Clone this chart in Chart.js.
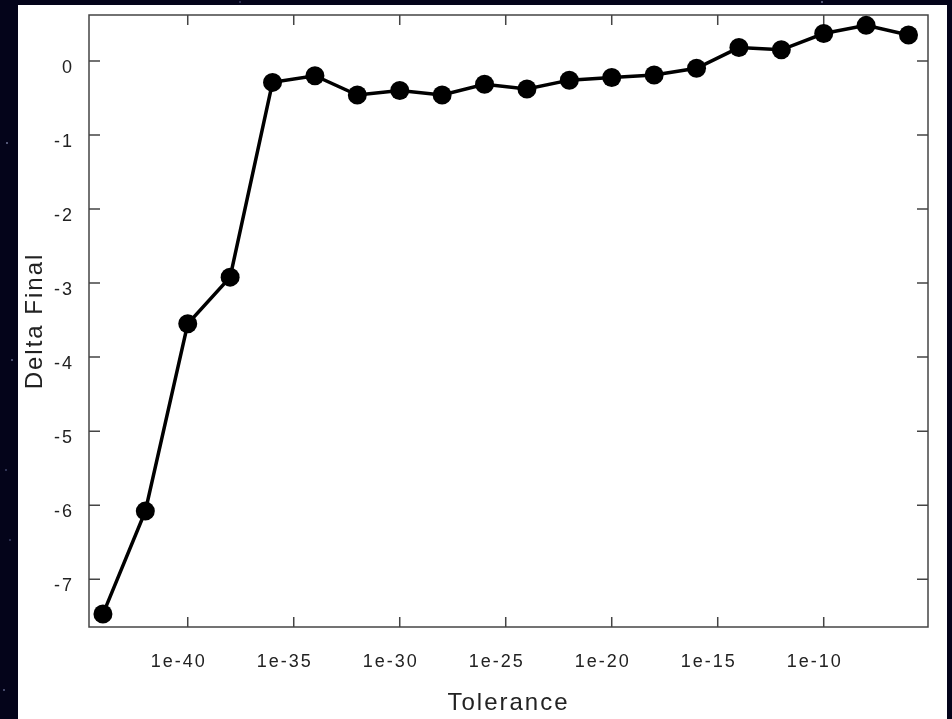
<!DOCTYPE html>
<html>
<head>
<meta charset="utf-8">
<script src="https://cdn.jsdelivr.net/npm/chart.js@4.4.0/dist/chart.umd.min.js"></script>
<style>
  html, body { margin: 0; padding: 0; }
  body {
    width: 952px; height: 719px; overflow: hidden; position: relative;
    background-color: #04041a;
    background-image:
      radial-gradient(circle at 7px 143px, #9aa0c8 0, transparent 1.5px),
      radial-gradient(circle at 12px 360px, #8890b8 0, transparent 1.5px),
      radial-gradient(circle at 6px 470px, #7078a8 0, transparent 1.2px),
      radial-gradient(circle at 10px 540px, #6a70a0 0, transparent 1.2px),
      radial-gradient(circle at 4px 690px, #8088b0 0, transparent 1.5px),
      radial-gradient(circle at 240px 2px, #6a70a0 0, transparent 1.2px),
      radial-gradient(circle at 822px 2px, #9aa0c8 0, transparent 1.5px);
  }
  #panel { position: absolute; left: 18px; top: 5px; width: 929px; height: 714px; background: #fff; }
  #chart { position: absolute; left: 0; top: 0; }
</style>
</head>
<body>
<div id="panel"></div>
<canvas id="chart" width="952" height="719"></canvas>
<script>
// tolerance values (x) and final delta (y)
const tolerances = [1e-44, 1e-42, 1e-40, 1e-38, 1e-36, 1e-34, 1e-32, 1e-30, 1e-28, 1e-26,
                    1e-24, 1e-22, 1e-20, 1e-18, 1e-16, 1e-14, 1e-12, 1e-10, 1e-8, 1e-6];
const deltaFinal = [-7.47, -6.08, -3.55, -2.92, -0.29, -0.20, -0.46, -0.40, -0.46, -0.315,
                    -0.38, -0.26, -0.225, -0.19, -0.10, 0.18, 0.15, 0.37, 0.48, 0.35];

const xTickValues = [1e-40, 1e-35, 1e-30, 1e-25, 1e-20, 1e-15, 1e-10];
const xTickLabels = ['1e-40', '1e-35', '1e-30', '1e-25', '1e-20', '1e-15', '1e-10'];
const yTickValues = [-7, -6, -5, -4, -3, -2, -1, 0];

const frameColor = '#444';

// rámeček s vnitřními tiky (gnuplot styl)
const framePlugin = {
  id: 'frame',
  beforeDraw(chart) {
    chart.ctx.letterSpacing = '2px';
  },
  beforeDatasetsDraw(chart) {
    const {ctx, chartArea: a, scales: {x, y}} = chart;
    ctx.save();
    ctx.strokeStyle = frameColor;
    ctx.lineWidth = 1.5;
    ctx.strokeRect(a.left, a.top, a.right - a.left, a.bottom - a.top);
    ctx.beginPath();
    xTickValues.forEach(v => {
      const px = x.getPixelForValue(v);
      ctx.moveTo(px, a.bottom); ctx.lineTo(px, a.bottom - 10);
      ctx.moveTo(px, a.top); ctx.lineTo(px, a.top + 10);
    });
    yTickValues.forEach(v => {
      const py = y.getPixelForValue(v);
      ctx.moveTo(a.left, py); ctx.lineTo(a.left + 11, py);
      ctx.moveTo(a.right, py); ctx.lineTo(a.right - 11, py);
    });
    ctx.stroke();
    ctx.restore();
  }
};

const points = tolerances.map((t, i) => ({x: t, y: deltaFinal[i]}));

new Chart(document.getElementById('chart'), {
  type: 'line',
  data: {
    datasets: [{
      data: points,
      borderColor: '#000',
      backgroundColor: '#000',
      borderWidth: 3.5,
      pointRadius: 9.5,
      pointHoverRadius: 9.5,
      pointBorderWidth: 0,
      tension: 0,
      clip: false
    }]
  },
  options: {
    responsive: false,
    animation: false,
    events: [],
    layout: { padding: { left: 0, top: 15, right: 24, bottom: 0 } },
    plugins: { legend: { display: false }, tooltip: { enabled: false } },
    scales: {
      x: {
        type: 'logarithmic',
        min: 2.2e-45,
        max: 8.3e-6,
        afterBuildTicks: s => { s.ticks = xTickValues.map(v => ({value: v})); },
        afterFit: s => { s.height = 92; },
        grid: { display: false, drawTicks: false },
        border: { display: false },
        ticks: {
          autoSkip: false,
          maxRotation: 0,
          padding: 24,
          labelOffset: -9,
          color: '#222',
          font: { family: 'Liberation Sans', size: 18 },
          callback: (v, i) => xTickLabels[i]
        },
        title: {
          display: true,
          text: 'Tolerance',
          color: '#222',
          font: { family: 'Liberation Sans', size: 24 },
          padding: { top: 0, bottom: 1 }
        }
      },
      y: {
        min: -7.645,
        max: 0.62,
        afterBuildTicks: s => { s.ticks = yTickValues.map(v => ({value: v})); },
        afterFit: s => { s.width = 89; s.paddingTop = 0; s.paddingBottom = 0; },
        grid: { display: false, drawTicks: false },
        border: { display: false },
        ticks: {
          padding: 15,
          labelOffset: 7,
          color: '#222',
          font: { family: 'Liberation Sans', size: 18 },
          callback: v => String(v)
        },
        title: {
          display: true,
          text: 'Delta Final',
          color: '#222',
          font: { family: 'Liberation Sans', size: 24 },
          padding: { top: 21, bottom: 0 }
        }
      }
    }
  },
  plugins: [framePlugin]
});
</script>
</body>
</html>
